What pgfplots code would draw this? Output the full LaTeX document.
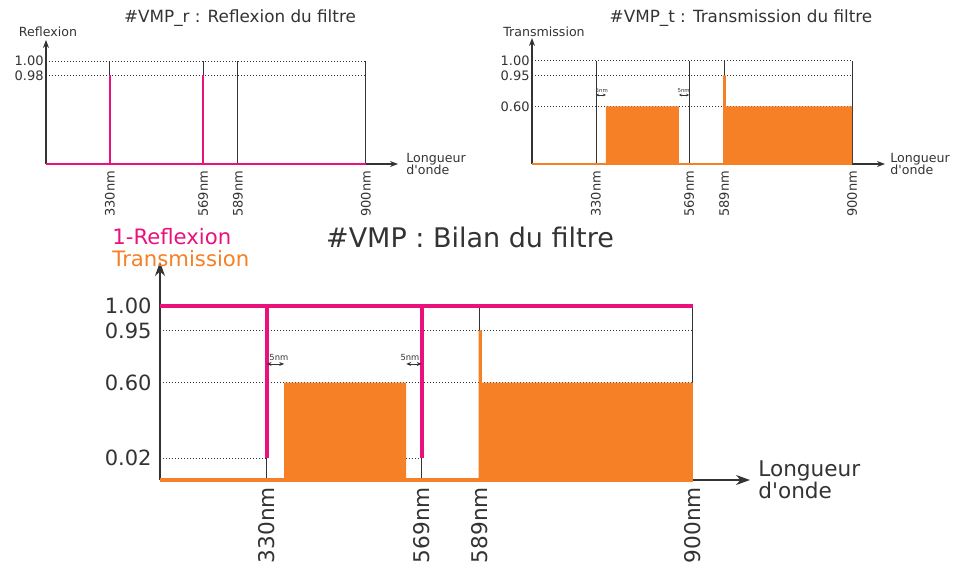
\documentclass[border=0pt]{standalone}
\usepackage{fontspec}
\setmainfont{DejaVu Sans}
\usepackage{pgfplots}
\pgfplotsset{compat=1.18}
\usetikzlibrary{arrows.meta}
\definecolor{vmppink}{RGB}{234,17,124}
\definecolor{vmporange}{RGB}{245,128,37}
\definecolor{axgray}{RGB}{51,51,51}
\newcommand\fs[1]{\fontsize{#1}{#1}\selectfont}

\pgfplotsset{
  vmp/.style={
    scale only axis, axis lines=left, clip=false,
    anchor=south west, xmin=0, ymin=0,
    major tick length=0pt,
    axis line style={axgray, line width=0.6pt, -{Stealth[length=5pt,width=4pt]}},
    xtick={20,49.1,60,100},
    xticklabels={330nm,569nm,589nm,900nm},
    xticklabel style={rotate=90, anchor=east},
    tick label style={text=axgray}, label style={text=axgray},
    xlabel style={at={(axis description cs:1,0)}, anchor=west, align=left, inner sep=0pt, xshift=4pt},
    xlabel={Longueur\\d\textquotesingle onde},
  },
  vline/.style={axgray, line width=0.5pt},
  gridl/.style={axgray, line width=0.5pt, densely dotted},
}

\begin{document}
\begin{tikzpicture}
\useasboundingbox (0,0) rectangle (477.5pt,-281.5pt);

% ---------- top left: reflexion
\begin{axis}[vmp, at={(23pt,-82pt)}, width=176pt, height=62pt, xmax=110, ymax=1.204,
  ytick={0.86,1}, yticklabels={0.98,1.00},
  tick label style={font=\fs{6.5}}, label style={font=\fs{6.3}},
  yticklabel style={inner sep=1pt},
  axis line style={-{Stealth[length=4pt,width=3pt]}}]
\addplot[gridl] coordinates {(0,1) (100,1)};
\addplot[gridl] coordinates {(0,0.86) (100,0.86)};
\addplot[vline] coordinates {(20,0) (20,1)};
\addplot[vline] coordinates {(49.1,0) (49.1,1)};
\addplot[vline] coordinates {(60,0) (60,1)};
\addplot[vline] coordinates {(100,0) (100,1)};
\addplot[vmppink, line width=1.2pt] coordinates {(0,0) (100,0)};
\addplot[vmppink, line width=1.2pt] coordinates {(20,0) (20,0.86)};
\addplot[vmppink, line width=1.2pt] coordinates {(49.1,0) (49.1,0.86)};
\end{axis}

% ---------- top right: transmission
\begin{axis}[vmp, at={(266pt,-82pt)}, width=176.5pt, height=63pt, xmax=110.3, ymax=1.223,
  ytick={0.56,0.86,1}, yticklabels={0.60,0.95,1.00},
  tick label style={font=\fs{6.5}}, label style={font=\fs{6.3}},
  yticklabel style={inner sep=1pt},
  xlabel style={xshift=-1.5pt},
  axis line style={-{Stealth[length=4pt,width=3pt]}}]
\addplot[gridl] coordinates {(0,1) (100,1)};
\addplot[gridl] coordinates {(0,0.86) (100,0.86)};
\addplot[gridl] coordinates {(0,0.56) (100,0.56)};
\addplot[vline] coordinates {(20,0) (20,1)};
\addplot[vline] coordinates {(49.1,0) (49.1,1)};
\addplot[vline] coordinates {(60,0) (60,1)};
\addplot[vline] coordinates {(100,0) (100,1)};
\addplot[fill=vmporange, draw=none] coordinates {(23.1,0) (23.1,0.56) (45.9,0.56) (45.9,0)} \closedcycle;
\addplot[fill=vmporange, draw=none] coordinates {(59.7,0) (59.7,0.86) (60.6,0.86) (60.6,0.56) (100,0.56) (100,0)} \closedcycle;
\addplot[vmporange, line width=1pt] coordinates {(0,0) (100,0)};
\draw[axgray, line width=0.3pt, {Stealth[length=1.5pt,width=1.3pt]}-{Stealth[length=1.5pt,width=1.3pt]}] (axis cs:20,0.67) -- (axis cs:23.1,0.67);
\draw[axgray, line width=0.3pt, {Stealth[length=1.5pt,width=1.3pt]}-{Stealth[length=1.5pt,width=1.3pt]}] (axis cs:45.9,0.67) -- (axis cs:49.1,0.67);
\node[font=\fs{2.7}, text=axgray, inner sep=0pt] at (axis cs:21.8,0.71) {5nm};
\node[font=\fs{2.7}, text=axgray, inner sep=0pt] at (axis cs:47.4,0.71) {5nm};
\end{axis}

% ---------- bottom: bilan
\begin{axis}[vmp, at={(80pt,-240pt)}, width=295pt, height=109pt, xmax=110.7, ymax=1.253,
  ytick={0.126,0.56,0.86,1}, yticklabels={0.02,0.60,0.95,1.00},
  tick label style={font=\fs{10.5}}, xticklabel style={font=\fs{10.8}},
  label style={font=\fs{10.8}},
  yticklabel style={inner sep=2pt, xshift=-2pt},
  axis line style={-{Stealth[length=7pt,width=5pt]}}]
\addplot[gridl] coordinates {(0,1) (100,1)};
\addplot[gridl] coordinates {(0,0.86) (100,0.86)};
\addplot[gridl] coordinates {(0,0.56) (100,0.56)};
\addplot[gridl] coordinates {(0,0.126) (20,0.126)};
\addplot[gridl] coordinates {(46.2,0.126) (49.1,0.126)};
\addplot[vline] coordinates {(20,0) (20,1)};
\addplot[vline] coordinates {(49.1,0) (49.1,1)};
\addplot[vline] coordinates {(60,0) (60,1)};
\addplot[vline] coordinates {(100,0) (100,1)};
\addplot[fill=vmporange, draw=none] coordinates {(23.3,0) (23.3,0.56) (46.2,0.56) (46.2,0)} \closedcycle;
\addplot[fill=vmporange, draw=none] coordinates {(59.8,0) (59.8,0.86) (60.4,0.86) (60.4,0.56) (100,0.56) (100,0)} \closedcycle;
\addplot[vmporange, line width=2pt] coordinates {(0,0) (100,0)};
\addplot[vmppink, line width=2pt] coordinates {(0,1) (100,1)};
\addplot[vmppink, line width=2pt] coordinates {(20,1) (20,0.126)};
\addplot[vmppink, line width=2pt] coordinates {(49.1,1) (49.1,0.126)};
\draw[axgray, line width=0.4pt, {Stealth[length=2.5pt,width=2pt]}-{Stealth[length=2.5pt,width=2pt]}] (axis cs:20,0.667) -- (axis cs:23.3,0.667);
\draw[axgray, line width=0.4pt, {Stealth[length=2.5pt,width=2pt]}-{Stealth[length=2.5pt,width=2pt]}] (axis cs:46.2,0.667) -- (axis cs:49.1,0.667);
\node[font=\fs{4.2}, text=axgray, inner sep=0pt] at (axis cs:22.3,0.707) {5nm};
\node[font=\fs{4.2}, text=axgray, inner sep=0pt] at (axis cs:46.9,0.707) {5nm};
\end{axis}

% ---------- titles and axis names
\node[font=\fs{8.4}, text=axgray] at (120pt,-9pt) {\#VMP\_r : Reflexion du filtre};
\node[font=\fs{8.4}, text=axgray] at (370.5pt,-9pt) {\#VMP\_t : Transmission du filtre};
\node[font=\fs{13.5}, text=axgray] at (235pt,-118.5pt) {\#VMP : Bilan du filtre};
\node[font=\fs{6.3}, text=axgray] at (24pt,-16pt) {Reflexion};
\node[font=\fs{6.3}, text=axgray] at (272pt,-16pt) {Transmission};
\node[font=\fs{10.6}, text=vmppink, anchor=west, inner sep=0pt] at (56pt,-118.5pt) {1-Reflexion};
\node[font=\fs{10.6}, text=vmporange, anchor=west, inner sep=0pt] at (56pt,-129.5pt) {Transmission};
\end{tikzpicture}
\end{document}
